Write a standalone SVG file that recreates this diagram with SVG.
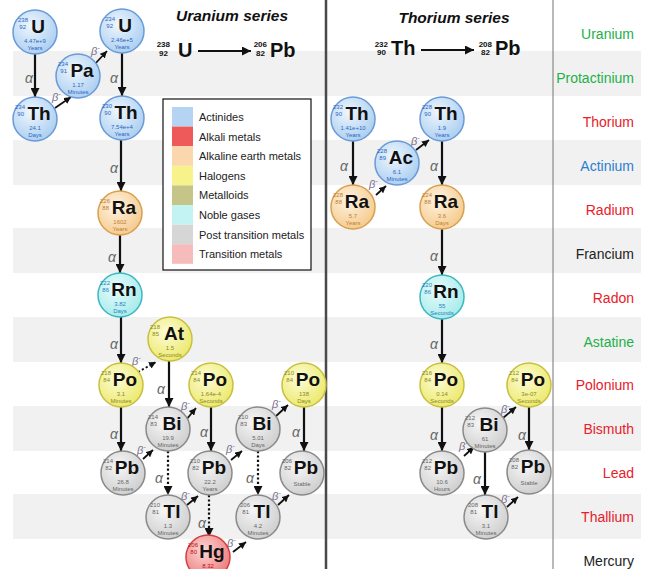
<svg xmlns="http://www.w3.org/2000/svg" width="651" height="569" viewBox="0 0 651 569">
<style>
text{font-family:"Liberation Sans",Arial,sans-serif}
.sym{font-weight:bold;font-size:19px;text-anchor:middle;fill:#111}
.n{font-size:6px;text-anchor:end}
.hl{font-size:6px;text-anchor:middle}
.act circle{fill:url(#gAct);stroke:#6a9bd8;stroke-width:1.5}
.act .n,.act .hl{fill:#2a66c4}
.ae circle{fill:url(#gAe);stroke:#d8a050;stroke-width:1.5}
.ae .n,.ae .hl{fill:#c08030}
.ng circle{fill:url(#gNg);stroke:#3cb8c0;stroke-width:1.5}
.ng .n,.ng .hl{fill:#2a80c0}
.hal circle{fill:url(#gHal);stroke:#c8c040;stroke-width:1.5}
.hal .n,.hal .hl{fill:#8a8a20}
.pt circle{fill:url(#gPt);stroke:#8a8a8a;stroke-width:1.5}
.pt .n,.pt .hl{fill:#666}
.tm circle{fill:url(#gTm);stroke:#d04040;stroke-width:1.5}
.tm .n,.tm .hl{fill:#c01010}
.a{stroke:#111;stroke-width:2.2;fill:none;marker-end:url(#ah)}
.b{stroke:#111;stroke-width:1.8;fill:none;marker-end:url(#bh)}
.d{stroke-dasharray:2.2 2.2}
.al{font-style:italic;font-size:14px;fill:#666}
.bl{font-style:italic;font-size:11px;fill:#7a7090}
.rl{font-size:14px;text-anchor:end}
.lg{font-size:11px;fill:#222}
.ttl{font-size:15.5px;font-weight:bold;font-style:italic;fill:#111;text-anchor:middle}
.fn{font-size:8px;font-weight:bold;text-anchor:end;fill:#111}
.fs{font-size:20px;font-weight:bold;fill:#111}
</style>
<defs>
<radialGradient id="gAct" cx="0.4" cy="0.35" r="0.7"><stop offset="0" stop-color="#eef6fe"/><stop offset="1" stop-color="#a9cdf0"/></radialGradient>
<radialGradient id="gAe" cx="0.4" cy="0.35" r="0.7"><stop offset="0" stop-color="#fef3e2"/><stop offset="1" stop-color="#f5c98a"/></radialGradient>
<radialGradient id="gNg" cx="0.4" cy="0.35" r="0.7"><stop offset="0" stop-color="#e8fcfc"/><stop offset="1" stop-color="#a4eaea"/></radialGradient>
<radialGradient id="gHal" cx="0.4" cy="0.35" r="0.7"><stop offset="0" stop-color="#fcfcd4"/><stop offset="1" stop-color="#ece86a"/></radialGradient>
<radialGradient id="gPt" cx="0.4" cy="0.35" r="0.7"><stop offset="0" stop-color="#f6f6f6"/><stop offset="1" stop-color="#cdcdcd"/></radialGradient>
<radialGradient id="gTm" cx="0.4" cy="0.35" r="0.7"><stop offset="0" stop-color="#fcd6d6"/><stop offset="1" stop-color="#ee7878"/></radialGradient>
<marker id="ah" viewBox="0 0 10 10" refX="10" refY="5" markerWidth="9" markerHeight="9" markerUnits="userSpaceOnUse" orient="auto"><path d="M0,0 L10,5 L0,10 z" fill="#111"/></marker>
<marker id="bh" viewBox="0 0 10 10" refX="10" refY="5" markerWidth="7" markerHeight="7" markerUnits="userSpaceOnUse" orient="auto"><path d="M0,0 L10,5 L0,10 z" fill="#111"/></marker>
</defs>
<rect width="651" height="569" fill="#fff"/>
<g id="bands" fill="#f1f1f1">
<rect x="13" y="51" width="628" height="45"/>
<rect x="13" y="140" width="628" height="45"/>
<rect x="13" y="228" width="628" height="45"/>
<rect x="13" y="317" width="628" height="45"/>
<rect x="13" y="406" width="628" height="45"/>
<rect x="13" y="494" width="628" height="45"/>
</g>
<line x1="326" y1="0" x2="326" y2="569" stroke="#4a4a4a" stroke-width="2.5"/>
<line x1="553" y1="0" x2="553" y2="569" stroke="#8a8a8a" stroke-width="1.2"/>
<g id="titles">
<text class="ttl" x="232" y="21">Uranium series</text>
<text class="ttl" x="454" y="23">Thorium series</text>
<text class="fn" x="170" y="47">238</text><text class="fn" x="168" y="56">92</text>
<text class="fs" x="178" y="57">U</text>
<line x1="198" y1="51" x2="251" y2="51" stroke="#111" stroke-width="2" marker-end="url(#ah)"/>
<text class="fn" x="267" y="47">206</text><text class="fn" x="265" y="56">82</text>
<text class="fs" x="270" y="57">Pb</text>
<text class="fn" x="388" y="47">232</text><text class="fn" x="386" y="55">90</text>
<text class="fs" x="391" y="55">Th</text>
<line x1="421" y1="50" x2="474" y2="50" stroke="#111" stroke-width="2" marker-end="url(#ah)"/>
<text class="fn" x="492" y="47">208</text><text class="fn" x="490" y="55">82</text>
<text class="fs" x="495" y="55">Pb</text>
</g>
<g id="rowlabels">
<text class="rl" x="634" y="39" fill="#22b04a">Uranium</text>
<text class="rl" x="634" y="83" fill="#22b04a">Protactinium</text>
<text class="rl" x="634" y="127" fill="#e8202a">Thorium</text>
<text class="rl" x="634" y="171" fill="#2a7fd0">Actinium</text>
<text class="rl" x="634" y="215" fill="#e8202a">Radium</text>
<text class="rl" x="634" y="259" fill="#222">Francium</text>
<text class="rl" x="634" y="303" fill="#e8202a">Radon</text>
<text class="rl" x="634" y="347" fill="#22b04a">Astatine</text>
<text class="rl" x="634" y="390" fill="#e8202a">Polonium</text>
<text class="rl" x="634" y="434" fill="#e8202a">Bismuth</text>
<text class="rl" x="634" y="478" fill="#e8202a">Lead</text>
<text class="rl" x="634" y="522" fill="#e8202a">Thallium</text>
<text class="rl" x="634" y="566" fill="#222">Mercury</text>
</g>
<g id="legend">
<rect x="163" y="99" width="148" height="171" fill="#fff" stroke="#111" stroke-width="1.2"/>
<rect x="172" y="107" width="21" height="19.6" fill="#b5d3f3"/>
<rect x="172" y="126.6" width="21" height="19.6" fill="#ee5a5a"/>
<rect x="172" y="146.2" width="21" height="19.6" fill="#fbd7ad"/>
<rect x="172" y="165.8" width="21" height="19.6" fill="#f7f38a"/>
<rect x="172" y="185.4" width="21" height="19.6" fill="#c5c58a"/>
<rect x="172" y="205" width="21" height="19.6" fill="#c3f3f3"/>
<rect x="172" y="224.6" width="21" height="19.6" fill="#d6d6d6"/>
<rect x="172" y="244.2" width="21" height="19.6" fill="#f6bcbc"/>
<text class="lg" x="199" y="121">Actinides</text>
<text class="lg" x="199" y="140.6">Alkali metals</text>
<text class="lg" x="199" y="160.2">Alkaline earth metals</text>
<text class="lg" x="199" y="179.8">Halogens</text>
<text class="lg" x="199" y="199.4">Metalloids</text>
<text class="lg" x="199" y="219">Noble gases</text>
<text class="lg" x="199" y="238.6">Post transition metals</text>
<text class="lg" x="199" y="258.2">Transition metals</text>
</g>
<g id="connectors">
<path class="a" d="M35,54 V97"/>
<path class="a" d="M122,53 V96"/>
<path class="a" d="M121,140 V191"/>
<path class="a" d="M120,235 V273"/>
<path class="a" d="M121,317 V363"/>
<path class="a" d="M121,407 V451"/>
<path class="a" d="M169,361 V407"/>
<path class="a" d="M211,407 V451"/>
<path class="a" d="M304,407 V451"/>
<path class="a d" d="M168,451 V495"/>
<path class="a d" d="M258,451 V495"/>
<path class="a d" d="M209,495 V537"/>
<path class="a" d="M353,141 V185"/>
<path class="a" d="M442,141 V185"/>
<path class="a" d="M442,229 V275"/>
<path class="a" d="M442,319 V363"/>
<path class="a" d="M442,407 V451"/>
<path class="a" d="M529,407 V450"/>
<path class="a" d="M485,452 V495"/>
<path class="b" d="M55,108 L71,97"/>
<path class="b" d="M94,65 L107,51"/>
<path class="b d" d="M138,372 L156,362"/>
<path class="b" d="M143,459 L153,450"/>
<path class="b" d="M186,420 L196,408"/>
<path class="b" d="M187,505 L198,496"/>
<path class="b" d="M231,460 L242,451"/>
<path class="b" d="M275,417 L288,405"/>
<path class="b" d="M278,505 L289,495"/>
<path class="b" d="M233,552 L246,542"/>
<path class="b" d="M376,195 L386,186"/>
<path class="b" d="M416,150 L429,140"/>
<path class="b" d="M464,456 L474,447"/>
<path class="b" d="M503,418 L516,407"/>
<path class="b" d="M507,507 L518,497"/>
<text class="al" x="25" y="83">α</text>
<text class="al" x="110" y="83">α</text>
<text class="al" x="110" y="173">α</text>
<text class="al" x="108" y="262">α</text>
<text class="al" x="110" y="349">α</text>
<text class="al" x="110" y="439">α</text>
<text class="al" x="157" y="394">α</text>
<text class="al" x="200" y="437">α</text>
<text class="al" x="292" y="437">α</text>
<text class="al" x="155" y="483">α</text>
<text class="al" x="246" y="483">α</text>
<text class="al" x="198" y="528">α</text>
<text class="al" x="340" y="171">α</text>
<text class="al" x="430" y="171">α</text>
<text class="al" x="430" y="261">α</text>
<text class="al" x="430" y="349">α</text>
<text class="al" x="430" y="440">α</text>
<text class="al" x="518" y="440">α</text>
<text class="al" x="473" y="484">α</text>
<text class="bl" x="52" y="101">β<tspan dy="-5" font-size="8">-</tspan></text>
<text class="bl" x="91" y="55">β<tspan dy="-5" font-size="8">-</tspan></text>
<text class="bl" x="132" y="365">β<tspan dy="-5" font-size="8">-</tspan></text>
<text class="bl" x="137" y="454">β<tspan dy="-5" font-size="8">-</tspan></text>
<text class="bl" x="181" y="410">β<tspan dy="-5" font-size="8">-</tspan></text>
<text class="bl" x="181" y="500">β<tspan dy="-5" font-size="8">-</tspan></text>
<text class="bl" x="226" y="453">β<tspan dy="-5" font-size="8">-</tspan></text>
<text class="bl" x="272" y="408">β<tspan dy="-5" font-size="8">-</tspan></text>
<text class="bl" x="272" y="500">β<tspan dy="-5" font-size="8">-</tspan></text>
<text class="bl" x="227" y="547">β<tspan dy="-5" font-size="8">-</tspan></text>
<text class="bl" x="369" y="188">β<tspan dy="-5" font-size="8">-</tspan></text>
<text class="bl" x="411" y="145">β<tspan dy="-5" font-size="8">-</tspan></text>
<text class="bl" x="459" y="450">β<tspan dy="-5" font-size="8">-</tspan></text>
<text class="bl" x="501" y="413">β<tspan dy="-5" font-size="8">-</tspan></text>
<text class="bl" x="501" y="503">β<tspan dy="-5" font-size="8">-</tspan></text>
</g>
<g id="U238" class="act" transform="translate(35,32)"><circle r="22"/><text class="n" x="-7" y="-10">238</text><text class="n" x="-9" y="-3">92</text><text class="sym" x="3" y="1">U</text><text class="hl" y="11">4.47e+9</text><text class="hl" y="18">Years</text></g>
<g id="Pa234" class="act" transform="translate(78,76)"><circle r="22"/><text class="n" x="-10" y="-10">234</text><text class="n" x="-11" y="-3">91</text><text class="sym" x="4" y="1">Pa</text><text class="hl" y="11">1.17</text><text class="hl" y="18">Minutes</text></g>
<g id="U234" class="act" transform="translate(122,31)"><circle r="22"/><text class="n" x="-7" y="-10">234</text><text class="n" x="-9" y="-3">92</text><text class="sym" x="3" y="1">U</text><text class="hl" y="11">2.46e+5</text><text class="hl" y="18">Years</text></g>
<g id="Th234" class="act" transform="translate(35,119)"><circle r="22"/><text class="n" x="-10" y="-10">234</text><text class="n" x="-11" y="-3">90</text><text class="sym" x="4" y="1">Th</text><text class="hl" y="11">24.1</text><text class="hl" y="18">Days</text></g>
<g id="Th230" class="act" transform="translate(122,118)"><circle r="22"/><text class="n" x="-10" y="-10">230</text><text class="n" x="-11" y="-3">90</text><text class="sym" x="4" y="1">Th</text><text class="hl" y="11">7.54e+4</text><text class="hl" y="18">Years</text></g>
<g id="Ra226" class="ae" transform="translate(120,213)"><circle r="22"/><text class="n" x="-10" y="-10">226</text><text class="n" x="-11" y="-3">88</text><text class="sym" x="4" y="1">Ra</text><text class="hl" y="11">1602</text><text class="hl" y="18">Years</text></g>
<g id="Rn222" class="ng" transform="translate(120,295)"><circle r="22"/><text class="n" x="-10" y="-10">222</text><text class="n" x="-11" y="-3">86</text><text class="sym" x="4" y="1">Rn</text><text class="hl" y="11">3.82</text><text class="hl" y="18">Days</text></g>
<g id="At218" class="hal" transform="translate(170,339)"><circle r="22"/><text class="n" x="-10" y="-10">218</text><text class="n" x="-11" y="-3">85</text><text class="sym" x="4" y="1">At</text><text class="hl" y="11">1.5</text><text class="hl" y="18">Seconds</text></g>
<g id="Po218" class="hal" transform="translate(121,385)"><circle r="22"/><text class="n" x="-10" y="-10">218</text><text class="n" x="-11" y="-3">84</text><text class="sym" x="4" y="1">Po</text><text class="hl" y="11">3.1</text><text class="hl" y="18">Minutes</text></g>
<g id="Po214" class="hal" transform="translate(211,385)"><circle r="22"/><text class="n" x="-10" y="-10">214</text><text class="n" x="-11" y="-3">84</text><text class="sym" x="4" y="1">Po</text><text class="hl" y="11">1.64e-4</text><text class="hl" y="18">Seconds</text></g>
<g id="Po210" class="hal" transform="translate(304,385)"><circle r="22"/><text class="n" x="-10" y="-10">210</text><text class="n" x="-11" y="-3">84</text><text class="sym" x="4" y="1">Po</text><text class="hl" y="11">138</text><text class="hl" y="18">Days</text></g>
<g id="Bi214" class="pt" transform="translate(168,429)"><circle r="22"/><text class="n" x="-10" y="-10">214</text><text class="n" x="-11" y="-3">83</text><text class="sym" x="4" y="1">Bi</text><text class="hl" y="11">19.9</text><text class="hl" y="18">Minutes</text></g>
<g id="Bi210" class="pt" transform="translate(258,429)"><circle r="22"/><text class="n" x="-10" y="-10">210</text><text class="n" x="-11" y="-3">83</text><text class="sym" x="4" y="1">Bi</text><text class="hl" y="11">5.01</text><text class="hl" y="18">Days</text></g>
<g id="Pb214" class="pt" transform="translate(123,473)"><circle r="22"/><text class="n" x="-10" y="-10">214</text><text class="n" x="-11" y="-3">82</text><text class="sym" x="4" y="1">Pb</text><text class="hl" y="11">26.8</text><text class="hl" y="18">Minutes</text></g>
<g id="Pb210" class="pt" transform="translate(210,473)"><circle r="22"/><text class="n" x="-10" y="-10">210</text><text class="n" x="-11" y="-3">82</text><text class="sym" x="4" y="1">Pb</text><text class="hl" y="11">22.2</text><text class="hl" y="18">Years</text></g>
<g id="Pb206" class="pt" transform="translate(302,473)"><circle r="22"/><text class="n" x="-10" y="-10">206</text><text class="n" x="-11" y="-3">82</text><text class="sym" x="4" y="1">Pb</text><text class="hl" y="13">Stable</text></g>
<g id="Tl210" class="pt" transform="translate(168,517)"><circle r="22"/><text class="n" x="-8" y="-10">210</text><text class="n" x="-9" y="-3">81</text><text class="sym" x="4" y="1">Tl</text><text class="hl" y="11">1.3</text><text class="hl" y="18">Minutes</text></g>
<g id="Tl206" class="pt" transform="translate(258,517)"><circle r="22"/><text class="n" x="-8" y="-10">206</text><text class="n" x="-9" y="-3">81</text><text class="sym" x="4" y="1">Tl</text><text class="hl" y="11">4.2</text><text class="hl" y="18">Minutes</text></g>
<g id="Hg206" class="tm" transform="translate(208,557)"><circle r="22"/><text class="n" x="-10" y="-10">206</text><text class="n" x="-11" y="-3">80</text><text class="sym" x="4" y="1">Hg</text><text class="hl" y="11">8.32</text></g>
<g id="Th232" class="act" transform="translate(353,119)"><circle r="22"/><text class="n" x="-10" y="-10">232</text><text class="n" x="-11" y="-3">90</text><text class="sym" x="4" y="1">Th</text><text class="hl" y="11">1.41e+10</text><text class="hl" y="18">Years</text></g>
<g id="Th228" class="act" transform="translate(442,119)"><circle r="22"/><text class="n" x="-10" y="-10">228</text><text class="n" x="-11" y="-3">90</text><text class="sym" x="4" y="1">Th</text><text class="hl" y="11">1.9</text><text class="hl" y="18">Years</text></g>
<g id="Ac228" class="act" transform="translate(397,163)"><circle r="22"/><text class="n" x="-10" y="-10">228</text><text class="n" x="-11" y="-3">89</text><text class="sym" x="4" y="1">Ac</text><text class="hl" y="11">6.1</text><text class="hl" y="18">Minutes</text></g>
<g id="Ra228" class="ae" transform="translate(353,207)"><circle r="22"/><text class="n" x="-10" y="-10">228</text><text class="n" x="-11" y="-3">88</text><text class="sym" x="4" y="1">Ra</text><text class="hl" y="11">5.7</text><text class="hl" y="18">Years</text></g>
<g id="Ra224" class="ae" transform="translate(442,207)"><circle r="22"/><text class="n" x="-10" y="-10">224</text><text class="n" x="-11" y="-3">88</text><text class="sym" x="4" y="1">Ra</text><text class="hl" y="11">3.6</text><text class="hl" y="18">Days</text></g>
<g id="Rn220" class="ng" transform="translate(442,297)"><circle r="22"/><text class="n" x="-10" y="-10">220</text><text class="n" x="-11" y="-3">86</text><text class="sym" x="4" y="1">Rn</text><text class="hl" y="11">55</text><text class="hl" y="18">Seconds</text></g>
<g id="Po216" class="hal" transform="translate(442,385)"><circle r="22"/><text class="n" x="-10" y="-10">216</text><text class="n" x="-11" y="-3">84</text><text class="sym" x="4" y="1">Po</text><text class="hl" y="11">0.14</text><text class="hl" y="18">Seconds</text></g>
<g id="Po212" class="hal" transform="translate(529,385)"><circle r="22"/><text class="n" x="-10" y="-10">212</text><text class="n" x="-11" y="-3">84</text><text class="sym" x="4" y="1">Po</text><text class="hl" y="11">3e-07</text><text class="hl" y="18">Seconds</text></g>
<g id="Bi212" class="pt" transform="translate(485,430)"><circle r="22"/><text class="n" x="-10" y="-10">212</text><text class="n" x="-11" y="-3">83</text><text class="sym" x="4" y="1">Bi</text><text class="hl" y="11">61</text><text class="hl" y="18">Minutes</text></g>
<g id="Pb212" class="pt" transform="translate(442,473)"><circle r="22"/><text class="n" x="-10" y="-10">212</text><text class="n" x="-11" y="-3">82</text><text class="sym" x="4" y="1">Pb</text><text class="hl" y="11">10.6</text><text class="hl" y="18">Hours</text></g>
<g id="Pb208" class="pt" transform="translate(529,472)"><circle r="22"/><text class="n" x="-10" y="-10">208</text><text class="n" x="-11" y="-3">82</text><text class="sym" x="4" y="1">Pb</text><text class="hl" y="13">Stable</text></g>
<g id="Tl208" class="pt" transform="translate(486,517)"><circle r="22"/><text class="n" x="-8" y="-10">208</text><text class="n" x="-9" y="-3">81</text><text class="sym" x="4" y="1">Tl</text><text class="hl" y="11">3.1</text><text class="hl" y="18">Minutes</text></g>
</svg>
